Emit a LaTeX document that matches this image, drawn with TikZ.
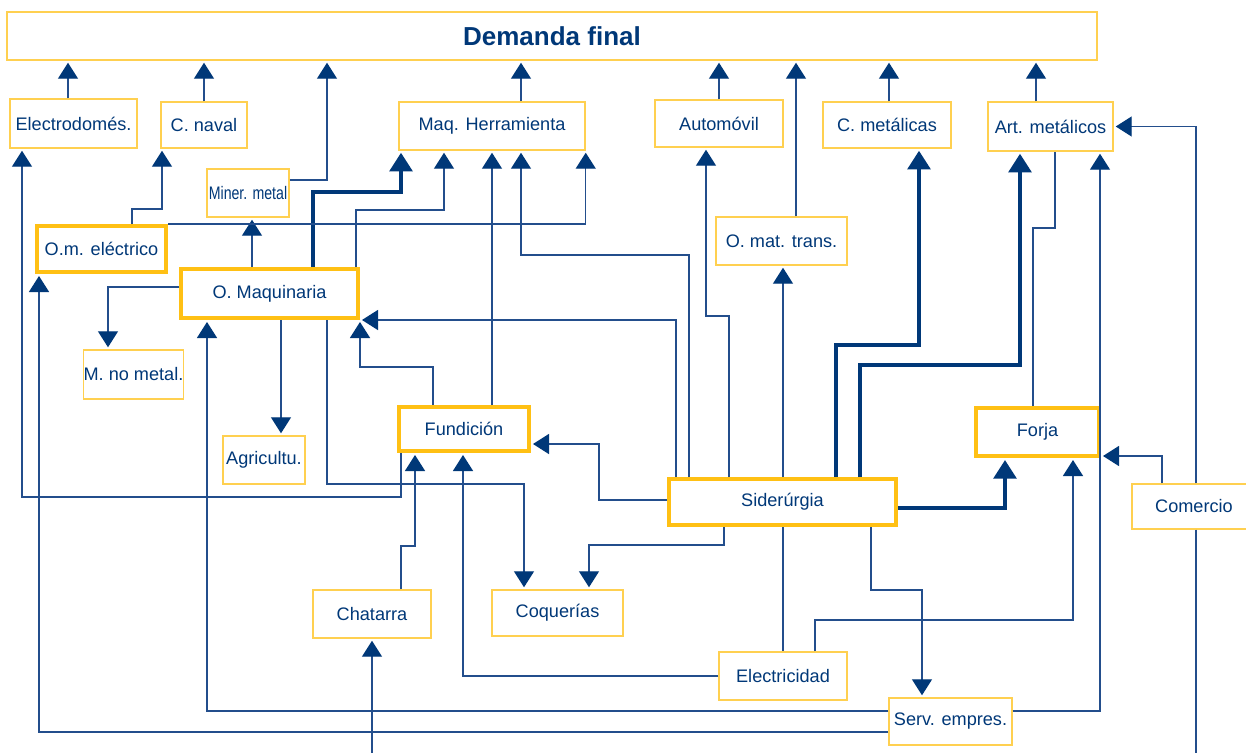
\documentclass[tikz,border=0pt]{standalone}
\usepackage{fontspec}
\usepackage{graphicx}
\setmainfont{Liberation Sans}
\usetikzlibrary{arrows.meta}
\definecolor{dblue}{RGB}{0,56,120}
\definecolor{lblue}{RGB}{35,78,140}
\definecolor{ythin}{RGB}{255,208,80}
\definecolor{ythick}{RGB}{255,192,20}
\tikzset{
  tbox/.style 2 args={draw=ythin, line width=1.1pt, fill=white, minimum width=#1*0.75pt, minimum height=#2*0.75pt, inner sep=0pt, font=\fontsize{13.6}{16}\selectfont, text=dblue},
  kbox/.style 2 args={draw=ythick, line width=3pt, fill=white, minimum width=#1*0.75pt, minimum height=#2*0.75pt, inner sep=0pt, font=\fontsize{13.6}{16}\selectfont, text=dblue},
  conn/.style={draw=lblue, line width=1pt},
  arr/.style={conn, -{Triangle[length=12pt,width=15pt,color=dblue]}, shorten >=1.5pt},
  thk/.style={draw=dblue, line width=3pt, -{Triangle[length=14pt,width=17pt]}, shorten >=1.5pt},
}
\begin{document}
\begin{tikzpicture}[x=0.75pt,y=-0.75pt]
\clip (0,0) rectangle (1246,753);
\fill[white] (0,0) rectangle (1246,753);
% nodes
\node[tbox={1090}{48}, font=\fontsize{19.5}{23}\selectfont\bfseries] (dem) at (552,36) {Demanda final};
\node[tbox={127}{49}] (elec) at (73.5,123.5) {Electrodomés.};
\node[tbox={86}{46}] (naval) at (204,125) {C. naval};
\node[tbox={82}{48}] (miner) at (248,193) {\scalebox{0.78}[1]{Miner. metal}};
\node[kbox={129}{46}] (ome) at (101.5,249) {O.m. eléctrico};
\node[kbox={177}{49}] (omaq) at (269.5,293.5) {O. Maquinaria};
\node[tbox={99}{49}] (mnm) at (133.5,374.5) {M. no metal.};
\node[tbox={82}{48}] (agri) at (264,460) {Agricultu.};
\node[tbox={186}{48}] (maqh) at (492,126) {Maq. Herramienta};
\node[tbox={128}{47}] (auto) at (719,123.5) {Automóvil};
\node[tbox={128}{46}] (cmet) at (887,125) {C. metálicas};
\node[tbox={125}{49}] (art) at (1050.5,126.5) {Art. metálicos};
\node[tbox={131}{48}] (omt) at (781.5,241) {O. mat. trans.};
\node[kbox={130}{44}] (fund) at (464,429) {Fundición};
\node[kbox={227}{46}] (sid) at (782.5,502) {Siderúrgia};
\node[kbox={123}{48}] (forja) at (1037.5,432) {Forja};
\node[tbox={124}{45}] (com) at (1194,506.5) {Comercio};
\node[tbox={118}{48}] (chat) at (372,614) {Chatarra};
\node[tbox={131}{46}] (coq) at (557.5,613) {Coquerías};
\node[tbox={128}{48}] (elect) at (783,676) {Electricidad};
\node[tbox={123}{47}] (serv) at (950.5,721.5) {Serv. empres.};
\coordinate (inchat) at (372,753);
\coordinate (outcom) at (1196,753);
% to Demanda final
\draw[arr] (elec.north -| 68,0) -- (dem.south -| 68,0);
\draw[arr] (naval.north) -- (dem.south -| naval.north);
\draw[arr] (miner.east |- 0,180) -| (dem.south -| 327,0);
\draw[arr] (maqh.north -| 521,0) -- (dem.south -| 521,0);
\draw[arr] (auto.north) -- (dem.south -| auto.north);
\draw[arr] (omt.north -| 796,0) -- (dem.south -| 796,0);
\draw[arr] (cmet.north -| 889,0) -- (dem.south -| 889,0);
\draw[arr] (art.north -| 1036,0) -- (dem.south -| 1036,0);
% Comercio
\draw[arr] (com.north -| 1196,0) |- (art.east);
\draw[arr] (com.north -| 1162,0) |- (forja.east |- 0,456);
\draw[conn] (com.south -| 1196,0) -- (outcom);
% Forja / Art
\draw[conn] (forja.north -| 1033,0) |- (1055,228) -- (art.south -| 1055,0);
\draw[arr] (serv.east |- 0,711) -| (art.south -| 1100,0);
\draw[arr] (elect.north -| 815,0) |- (1073,620) -- (forja.south -| 1073,0);
% Siderurgia
\draw[thk] (sid.east |- 0,508) -| (forja.south -| 1005,0);
\draw[thk] (sid.north -| 836,0) |- (919,345) -- (cmet.south -| 919,0);
\draw[thk] (sid.north -| 860,0) |- (1020,365) -- (art.south -| 1020,0);
\draw[arr] (sid.north -| 783,0) -- (omt.south -| 783,0);
\draw[arr] (sid.north -| 729,0) |- (706,316) -- (auto.south -| 706,0);
\draw[arr] (sid.north -| 689,0) |- (521,255) -- (maqh.south -| 521,0);
\draw[arr] (sid.north -| 676,0) |- (omaq.south east);
\draw[arr] (sid.west |- 0,500) -| (599,444) -- (fund.east |- 0,444);
\draw[arr] (sid.south -| 724,0) |- (589,545) -- (coq.north -| 589,0);
\draw[arr] (sid.south -| 871,0) |- (922,590) -- (serv.north -| 922,0);
\draw[conn] (sid.south -| 783,0) -- (elect.north -| 783,0);
% Fundicion
\draw[arr] (fund.north -| 433,0) |- (omaq.south east |- 0,367) -- (omaq.south east);
\draw[arr] (fund.north -| 492,0) -- (maqh.south -| 492,0);
\draw[arr] (fund.south -| 401,0) |- (22,497) -- (elec.south -| 22,0);
% O. Maquinaria
\draw[arr] (omaq.south -| 327,0) |- (524,484) -- (coq.north -| 524,0);
\draw[arr] (omaq.south -| 281,0) -- (agri.north -| 281,0);
\draw[arr] (omaq.west |- 0,287) -| (mnm.north -| 108,0);
\draw[arr] (omaq.north -| 252,0) -- (miner.south -| 252,0);
\draw[thk] (omaq.north -| 313,0) |- (401,192) -- (maqh.south -| 401,0);
\draw[arr] (omaq.north -| 356,0) |- (444,210) -- (maqh.south -| 444,0);
% O.m. electrico
\draw[arr] (ome.north east) -| (maqh.south east);
\draw[arr] (ome.north -| 132,0) |- (162,209) -- (naval.south -| 162,0);
% Serv. empres.
\draw[arr] (serv.west |- 0,732) -| (ome.south -| 39,0);
\draw[arr] (serv.west |- 0,711) -| (omaq.south -| 207,0);
% Chatarra, Electricidad
\draw[arr] (chat.north -| 401,0) |- (415,546) -- (fund.south -| 415,0);
\draw[arr] (elect.west |- 0,676) -| (fund.south -| 463,0);
\draw[arr] (inchat) -- (chat.south);
\end{tikzpicture}
\end{document}
